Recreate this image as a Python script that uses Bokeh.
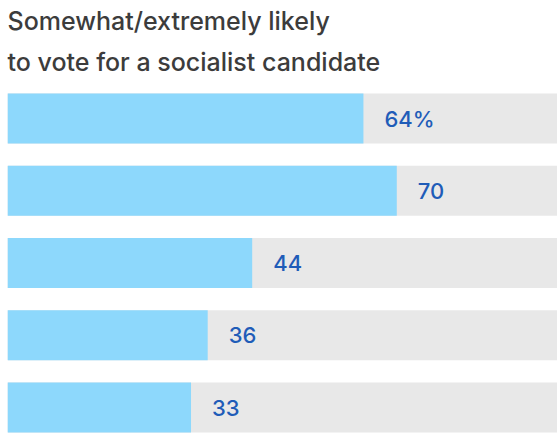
from bokeh.plotting import figure
from bokeh.models import Range1d, ColumnDataSource, Title
from bokeh.embed import file_html
from bokeh.resources import INLINE
from bokeh.core.properties import value

values = [64, 70, 44, 36, 33]
labels = ["64%", "70", "44", "36", "33"]
idx = [0, 1, 2, 3, 4]
full = [100, 100, 100, 100, 100]
title_lines = ["Somewhat/extremely likely", "to vote for a socialist candidate"]

src = ColumnDataSource(dict(y=idx, v=values, lab=labels, full=full))

p = figure(width=557, height=436, output_backend="svg", toolbar_location=None,
           x_range=Range1d(0, 98.9), y_range=Range1d(4.401, -0.443),
           min_border_left=7, min_border_right=0, min_border_bottom=0, min_border_top=86)
p.axis.visible = False
p.grid.visible = False
p.outline_line_color = None
p.background_fill_color = "white"

standoffs = [0, 19]
line_heights = [0.85, 1.0]
for t, s, lh in reversed(list(zip(title_lines, standoffs, line_heights))):
    p.add_layout(Title(text=t, align="left", text_font="Inter Medium", text_font_size="25px",
                       text_font_style="normal", text_color="#3c3c3c", offset=0, standoff=s,
                       text_line_height=lh), "above")

p.hbar(y="y", left=0, right="full", height=0.69, source=src, color="#e8e8e8", line_color=None)
p.hbar(y="y", left=0, right="v", height=0.69, source=src, color="#8dd8fc", line_color=None)
p.text(x="v", y="y", text="lab", source=src, x_offset=21, text_baseline="middle",
       text_font=value("Inter Medium"), text_font_size="22px", text_color="#1f5cb8")

open("out.html", "w").write(file_html(p, INLINE))
